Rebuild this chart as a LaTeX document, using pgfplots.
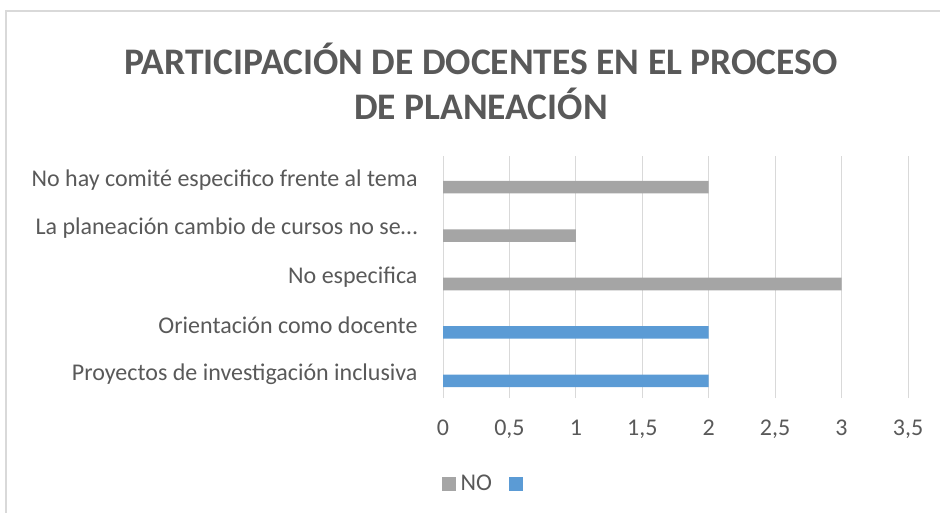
\documentclass[border=0pt]{standalone}
\usepackage{fontspec}
\setmainfont{Carlito}
\usepackage{pgfplots}
\pgfplotsset{compat=1.18}
\definecolor{txt}{HTML}{595959}
\definecolor{gridc}{HTML}{D9D9D9}
\definecolor{graybar}{HTML}{A5A5A5}
\definecolor{bluebar}{HTML}{5B9BD5}
\begin{document}
\begin{tikzpicture}
\path[use as bounding box] (0,0) rectangle (940bp,513bp);
\draw[gridc, line width=1.5bp] (6bp,0) -- (6bp,502bp) -- (940bp,502bp);
\node[txt, font=\fontsize{37.5bp}{45bp}\selectfont\bfseries, align=center] at (481bp,431.5bp) {PARTICIPACIÓN DE DOCENTES EN EL PROCESO\\DE PLANEACIÓN};
\begin{axis}[
  at={(443bp,115bp)}, anchor=south west, scale only axis,
  width=465bp, height=242bp,
  xbar, bar width=12.5bp, bar shift=-7bp,
  xmin=0, xmax=3.5, ymin=0.5, ymax=5.5,
  xtick={0,0.5,1,1.5,2,2.5,3,3.5},
  ytick={1,2,3,4,5},
  yticklabels={Proyectos de investigación inclusiva, Orientación como docente, No especifica, La planeación cambio de cursos no se…, No hay comité especifico frente al tema},
  major tick length=0pt,
  axis line style={draw=none},
  xmajorgrids, grid style={gridc, line width=1bp},
  /pgf/number format/assume math mode=true,
  /pgf/number format/use comma,
  /pgf/number format/fixed,
  tick label style={font=\fontsize{24bp}{28bp}\selectfont, text=txt},
  xticklabel style={yshift=-18.5bp},
  yticklabel style={xshift=-22bp},
  legend columns=2,
  legend style={at={(0.092,-0.355)}, anchor=center, draw=none, fill=none,
    font=\fontsize{24bp}{28bp}\selectfont, text=txt,
    /tikz/every odd column/.append style={column sep=3bp},
    /tikz/every even column/.append style={column sep=15bp}},
  legend image code/.code={\fill[#1] (0bp,-7bp) rectangle (14bp,7bp);},
]
\addplot[fill=graybar, draw=none] coordinates {(3,3) (1,4) (2,5)};
\addplot[fill=bluebar, draw=none] coordinates {(2,1) (2,2)};
\legend{NO,{\strut}}
\end{axis}
\end{tikzpicture}
\end{document}
